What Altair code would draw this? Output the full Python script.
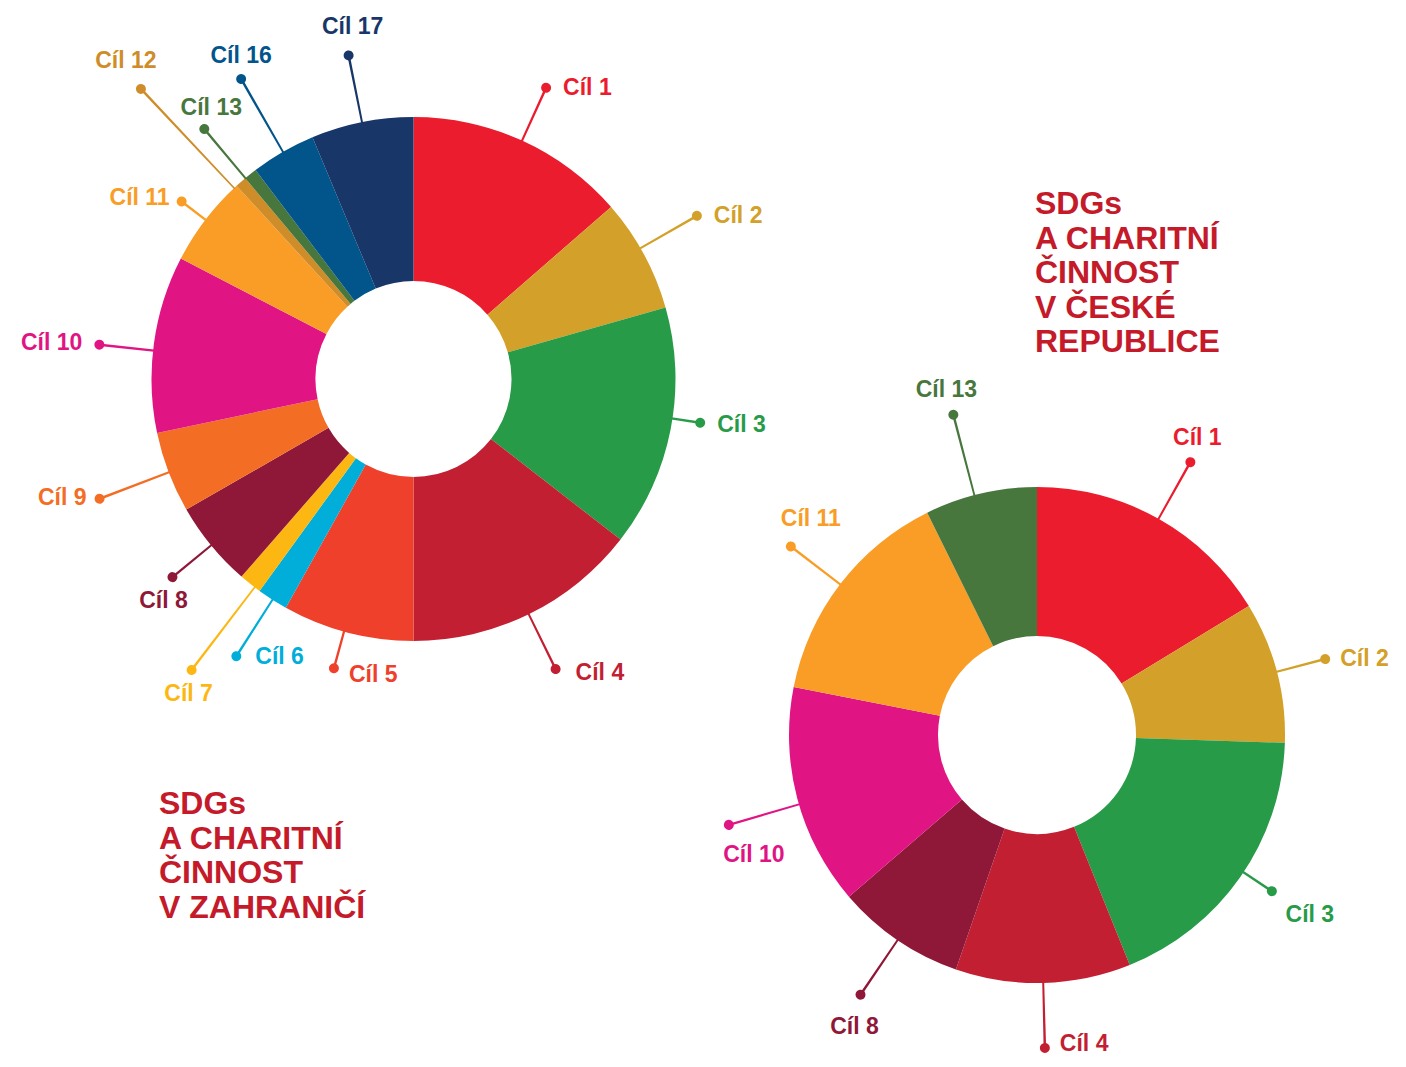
import math
import altair as alt
import pandas as pd

# ---------------- data ----------------
LEFT_GOALS = ["Cíl 1", "Cíl 2", "Cíl 3", "Cíl 4", "Cíl 5", "Cíl 6", "Cíl 7", "Cíl 8",
              "Cíl 9", "Cíl 10", "Cíl 11", "Cíl 12", "Cíl 13", "Cíl 16", "Cíl 17"]
LEFT_SHARES = [13.6, 7.0, 14.9, 14.5, 8.1, 1.9, 1.4, 5.3, 5.0, 10.9, 5.6, 0.7, 0.8, 4.0, 6.3]

RIGHT_GOALS = ["Cíl 1", "Cíl 2", "Cíl 3", "Cíl 4", "Cíl 8", "Cíl 10", "Cíl 11", "Cíl 13"]
RIGHT_SHARES = [16.3, 9.2, 18.4, 11.4, 8.4, 14.4, 14.6, 7.3]

LEFT_TITLE = "SDGs\nA CHARITNÍ\nČINNOST\nV ZAHRANIČÍ"
RIGHT_TITLE = "SDGs\nA CHARITNÍ\nČINNOST\nV ČESKÉ\nREPUBLICE"

# ---------------- styles ----------------
COLORS = {
    "Cíl 1": "#EB1C2D", "Cíl 2": "#D3A029", "Cíl 3": "#279B48", "Cíl 4": "#C31F33",
    "Cíl 5": "#EF402B", "Cíl 6": "#00AED9", "Cíl 7": "#FDB713", "Cíl 8": "#8F1838",
    "Cíl 9": "#F36D25", "Cíl 10": "#E11484", "Cíl 11": "#F99D26", "Cíl 12": "#CF8D2A",
    "Cíl 13": "#48773E", "Cíl 16": "#02558B", "Cíl 17": "#183668",
}
TITLE_COLOR = "#C41A2A"
FONT = "Liberation Sans"

# label layout: goal -> (dot radius px, angle nudge deg, align, dx, dy)
LEFT_LAYOUT = {
    "Cíl 1": (320, 0, "left", 17, 0), "Cíl 2": (327, -1.5, "left", 17, 0),
    "Cíl 3": (290, -2.3, "left", 17, 2), "Cíl 4": (323, 0, "left", 20, 4),
    "Cíl 5": (300, 0.8, "left", 15, 7), "Cíl 6": (329, 0, "left", 19, 1),
    "Cíl 7": (366, -1.2, "center", -3, 24), "Cíl 8": (312, 0, "center", -9, 24),
    "Cíl 9": (336, 0, "right", -13, -1), "Cíl 10": (316, -1.5, "right", -17, -2),
    "Cíl 11": (292, 0, "right", -12, -3), "Cíl 12": (398, -2.0, "center", -15, -28),
    "Cíl 13": (326, -1.4, "center", 7, -21), "Cíl 16": (346, 0, "center", 0, -23),
    "Cíl 17": (330, 0, "center", 4, -28),
}
RIGHT_LAYOUT = {
    "Cíl 1": (313, 0, "center", 7, -24), "Cíl 2": (298, 0, "left", 15, 0),
    "Cíl 3": (282, -1.3, "center", 38, 24), "Cíl 4": (313, 0, "left", 15, -4),
    "Cíl 8": (314, 0, "center", -6, 32), "Cíl 10": (321, -1.5, "center", 25, 30),
    "Cíl 11": (310, 0, "center", 20, -28), "Cíl 13": (331, -1.5, "center", -7, -25),
}

W, H = 1390, 1051
THETA = alt.Scale(domain=[0, 360], range=[0, 2 * math.pi])
DOT_R = 5.0


def donut(goals, shares, cx, cy, r_out, r_in, layout):
    total = float(sum(shares))
    rows = []
    cum = 0.0
    for g, s in zip(goals, shares):
        a0 = cum / total * 360
        cum += s
        a1 = cum / total * 360
        rl, nudge, align, dx, dy = layout[g]
        mid = (a0 + a1) / 2 + nudge
        line_half = math.degrees(1.25 / rl)
        dot_half = math.degrees(DOT_R / rl)
        rows.append(dict(goal=g, share=s, a0=a0, a1=a1, mid=mid, color=COLORS[g],
                         rl=rl, rdot0=rl - DOT_R, rdot1=rl + DOT_R,
                         c0=mid - line_half, c1=mid + line_half,
                         d0=mid - dot_half, d1=mid + dot_half,
                         grp=f"{align}|{dx}|{dy}"))
    df = pd.DataFrame(rows)
    col = alt.Color("color:N", scale=None)
    pos = dict(x=alt.value(cx), y=alt.value(cy))

    slices = alt.Chart(df).mark_arc(innerRadius=r_in, outerRadius=r_out).encode(
        theta=alt.Theta("a0:Q", scale=THETA, stack=False), theta2="a1:Q", color=col, **pos)

    lines = alt.Chart(df).mark_arc().encode(
        theta=alt.Theta("c0:Q", scale=THETA, stack=False), theta2="c1:Q",
        radius=alt.Radius("rl:Q", scale=None), radius2=alt.value(r_out - 1),
        color=col, **pos)

    dots = alt.Chart(df).mark_arc(cornerRadius=DOT_R).encode(
        theta=alt.Theta("d0:Q", scale=THETA, stack=False), theta2="d1:Q",
        radius=alt.Radius("rdot1:Q", scale=None), radius2="rdot0:Q",
        color=col, **pos)

    layers = [slices, lines, dots]
    for grp, sub in df.groupby("grp"):
        align, dx, dy = grp.split("|")
        layers.append(
            alt.Chart(sub).mark_text(
                align=align, baseline="middle", dx=float(dx), dy=float(dy),
                font=FONT, fontSize=23, fontWeight="bold",
            ).encode(
                theta=alt.Theta("mid:Q", scale=THETA, stack=False),
                radius=alt.Radius("rl:Q", scale=None),
                text="goal:N", color=col, **pos)
        )
    return layers


def title(text, x, y):
    return alt.Chart(pd.DataFrame({"t": [text]})).mark_text(
        align="left", baseline="alphabetic", lineBreak="\n", lineHeight=34.5,
        font=FONT, fontSize=32, fontWeight="bold", color=TITLE_COLOR,
    ).encode(text="t:N", x=alt.value(x), y=alt.value(y))


layers = []
layers += donut(LEFT_GOALS, LEFT_SHARES, 405.5, 371, 262, 98, LEFT_LAYOUT)
layers += donut(RIGHT_GOALS, RIGHT_SHARES, 1029, 727, 248, 99, RIGHT_LAYOUT)
layers.append(title(LEFT_TITLE, 151, 806))
layers.append(title(RIGHT_TITLE, 1027, 206))

chart = alt.layer(*layers).properties(
    width=W, height=H, autosize=alt.AutoSizeParams(type="none"), padding=0,
).configure_view(stroke=None)

chart.save("out.html", embed_options={"renderer": "svg", "actions": False})
